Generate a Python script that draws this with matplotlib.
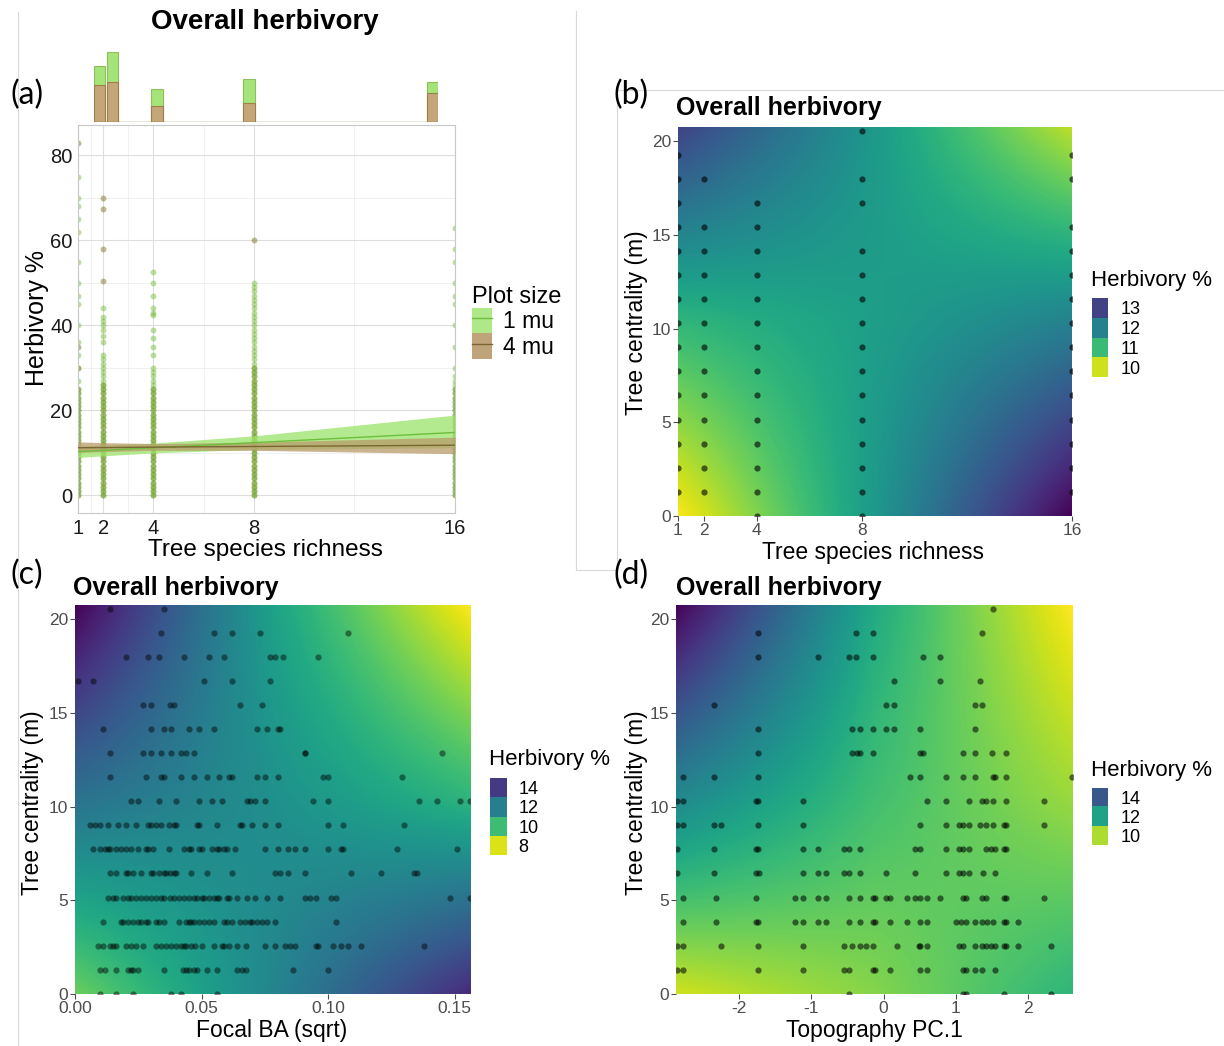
import numpy as np
import matplotlib
matplotlib.use('Agg')
from matplotlib import pyplot as plt
from matplotlib.colors import Normalize
from matplotlib.patches import Patch
from matplotlib.lines import Line2D

W, H = 1224, 1046
plt.rcParams['font.family'] = ['Liberation Sans', 'DejaVu Sans']

# ---------------- panel (a): herbivory vs richness ----------------
richness = [1, 2, 4, 8, 16]
herb_1mu = {
    1: [0, 1, 2, 3, 4, 5, 6, 7, 8, 9, 10, 11, 12, 13, 14, 15, 16, 17, 18, 19, 20, 21, 22, 23, 24, 25,
        27, 30, 33, 36, 40, 45, 47, 50, 55, 62, 65, 68, 70, 75],
    2: [0, 1, 2, 3, 4, 5, 6, 7, 8, 9, 10, 11, 12, 13, 14, 15, 16, 17, 18, 19, 20, 21, 22, 23, 24, 25,
        26, 27, 28, 29, 30, 31, 32, 33, 36, 37.5, 39, 40, 41, 42, 44],
    4: [0, 1, 2, 3, 4, 5, 6, 7, 8, 9, 10, 11, 12, 13, 14, 15, 16, 17, 18, 19, 20, 21, 22, 23, 24, 25,
        26, 27, 28, 29, 30, 33, 35, 37, 39, 42.5, 43, 44, 47, 50, 52.5],
    8: [0, 1, 2, 3, 4, 5, 6, 7, 8, 9, 10, 11, 12, 13, 14, 15, 16, 17, 18, 19, 20, 21, 22, 23, 24, 25,
        26, 27, 28, 29, 30, 31, 32, 33, 34, 35, 36, 37, 38, 39, 40, 41, 42, 43, 44, 45, 46, 47, 48, 49, 50],
    16: [0, 1, 2, 3, 4, 5, 6, 7, 8, 9, 10, 11, 12, 13, 14, 15, 16, 17, 18, 19, 20, 21, 22, 23, 24, 25,
         26, 27, 28, 30, 35, 40, 45, 47, 50, 55, 58, 63],
}
herb_4mu = {
    1: [0, 1, 2, 3, 4, 5, 6, 7, 8, 9, 10, 11, 12, 13, 14, 15, 16, 17, 18, 19, 20, 21, 22, 23, 24, 25,
        30, 35, 83],
    2: [0, 1, 2, 3, 4, 5, 6, 7, 8, 9, 10, 11, 12, 13, 14, 15, 16, 17, 18, 19, 20, 21, 22, 23, 24, 25,
        26, 50.5, 58, 67.5, 70],
    4: [0, 1, 2, 3, 4, 5, 6, 7, 8, 9, 10, 11, 12, 13, 14, 15, 16, 17, 18, 19, 20, 21, 22, 23, 24, 25],
    8: [0, 1, 2, 3, 4, 5, 6, 7, 8, 9, 10, 11, 12, 13, 14, 15, 16, 17, 18, 19, 20, 21, 22, 23, 24, 25,
        26, 27, 28, 29, 30, 60],
    16: [0, 1, 2, 3, 4, 5, 6, 7, 8, 9, 10, 11, 12, 13, 14, 15, 16, 17, 18, 19, 20, 21, 22, 23, 24, 25],
}
fit_1mu = [10.3, 10.6, 11.2, 12.4, 14.8]
lo_1mu = [8.9, 9.3, 10.0, 10.8, 11.2]
hi_1mu = [11.7, 11.8, 12.3, 14.0, 18.9]
fit_4mu = [11.2, 11.25, 11.35, 11.5, 11.8]
lo_4mu = [10.1, 10.3, 10.6, 10.6, 9.8]
hi_4mu = [12.6, 12.4, 12.2, 12.5, 13.7]

# marginal histogram (counts per richness bin)
hist_left = [1.0, 1.55, 3.5, 7.5, 15.5]
count_1mu = [565, 700, 330, 430, 405]
count_4mu = [370, 400, 165, 195, 290]

# ---------------- panels (b)-(d): centrality rows ----------------
cent_rows = [0, 1.29, 2.57, 3.86, 5.14, 6.43, 7.71, 9.0, 10.28, 11.57, 12.85,
             14.14, 15.42, 16.71, 17.99, 19.28, 20.56]

# (b) row indices of observed trees per richness level
b_rows = {
    1: [1, 2, 3, 4, 5, 6, 7, 8, 9, 10, 11, 12, 13, 14, 15],
    2: [1, 2, 3, 4, 5, 6, 7, 8, 9, 10, 11, 12, 14],
    4: [0, 1, 2, 3, 4, 5, 6, 7, 8, 9, 10, 11, 12, 13],
    8: [0, 1, 2, 3, 4, 5, 6, 7, 8, 9, 10, 11, 13, 14, 16],
    16: [1, 2, 3, 4, 5, 6, 7, 8, 9, 10, 11, 12, 14, 15],
}
b_gx = [1, 8.5, 16]
b_gy = [0, 10.375, 20.75]
b_gz = [[9.7, 11.6, 13.8],
        [11.1, 11.5, 12.0],
        [13.0, 11.6, 10.1]]
b_levels = [13, 12, 11, 10]

# (c) focal BA (sqrt) per centrality row
c_rows = [
    [0.010, 0.016, 0.023, 0.038, 0.042, 0.056],
    [0.010, 0.012, 0.016, 0.021, 0.022, 0.023, 0.025, 0.035, 0.0425, 0.044, 0.045, 0.047, 0.048,
     0.052, 0.056, 0.064, 0.066, 0.0675, 0.086, 0.100],
    [0.009, 0.011, 0.014, 0.015, 0.016, 0.020, 0.022, 0.024, 0.027, 0.032, 0.034, 0.036, 0.038,
     0.040, 0.042, 0.043, 0.044, 0.046, 0.0475, 0.050, 0.055, 0.058, 0.059, 0.061, 0.064, 0.0675,
     0.075, 0.079, 0.083, 0.085, 0.087, 0.095, 0.096, 0.102, 0.105, 0.108, 0.113, 0.138],
    [0.011, 0.018, 0.019, 0.021, 0.023, 0.025, 0.026, 0.028, 0.029, 0.032, 0.033, 0.035, 0.041,
     0.044, 0.045, 0.046, 0.047, 0.049, 0.051, 0.053, 0.055, 0.059, 0.060, 0.062, 0.065, 0.067,
     0.069, 0.070, 0.072, 0.074, 0.076, 0.079, 0.103],
    [0.013, 0.015, 0.016, 0.019, 0.021, 0.022, 0.024, 0.026, 0.028, 0.030, 0.032, 0.034, 0.035,
     0.0375, 0.039, 0.041, 0.043, 0.045, 0.047, 0.048, 0.050, 0.051, 0.053, 0.055, 0.056, 0.057,
     0.060, 0.061, 0.064, 0.068, 0.071, 0.076, 0.081, 0.091, 0.093, 0.095, 0.101, 0.103, 0.148, 0.156],
    [0.014, 0.016, 0.020, 0.021, 0.023, 0.026, 0.030, 0.031, 0.033, 0.035, 0.036, 0.0375, 0.039,
     0.040, 0.046, 0.052, 0.062, 0.079, 0.081, 0.084, 0.091, 0.109, 0.121, 0.134, 0.135],
    [0.007, 0.010, 0.012, 0.013, 0.014, 0.016, 0.018, 0.020, 0.022, 0.025, 0.028, 0.029, 0.031,
     0.037, 0.043, 0.045, 0.046, 0.049, 0.050, 0.054, 0.056, 0.057, 0.059, 0.060, 0.063, 0.075,
     0.080, 0.084, 0.087, 0.091, 0.100, 0.105, 0.106, 0.127, 0.151],
    [0.006, 0.008, 0.010, 0.013, 0.017, 0.020, 0.024, 0.029, 0.030, 0.032, 0.034, 0.037, 0.039,
     0.040, 0.048, 0.049, 0.056, 0.065, 0.066, 0.070, 0.075, 0.080, 0.100, 0.106, 0.130],
    [0.022, 0.025, 0.033, 0.040, 0.049, 0.054, 0.058, 0.068, 0.069, 0.071, 0.075, 0.094, 0.100,
     0.136, 0.143, 0.152, 0.156],
    [0.014, 0.028, 0.034, 0.035, 0.042, 0.047, 0.052, 0.057, 0.061, 0.062, 0.072, 0.075, 0.080,
     0.098, 0.100, 0.129],
    [0.014, 0.027, 0.030, 0.034, 0.038, 0.042, 0.044, 0.047, 0.091, 0.091, 0.145],
    [0.011, 0.030, 0.035, 0.038, 0.045, 0.049, 0.055, 0.072, 0.076, 0.080, 0.081],
    [0.027, 0.030, 0.0375, 0.039, 0.065, 0.074],
    [0.001, 0.007, 0.051, 0.062, 0.077],
    [0.020, 0.029, 0.033, 0.043, 0.053, 0.059, 0.077, 0.079, 0.082, 0.096],
    [0.034, 0.055, 0.062, 0.073, 0.108],
    [0.014, 0.035],
]
c_gx = [0.0, 0.078, 0.156]
c_gy = [0, 10.375, 20.75]
c_gz = [[9.3, 11.8, 14.4],
        [12.4, 11.45, 10.3],
        [15.3, 10.9, 7.6]]
c_levels = [14, 12, 10, 8]

# (d) topography PC1 per centrality row
d_rows = [
    [-0.48, 1.10, 1.14, 1.67, 2.31],
    [-2.85, -2.77, -1.73, -1.12, -0.55, -0.48, -0.14, -0.12, 0.09, 0.51, 0.60, 1.10, 1.14, 1.27,
     1.36, 1.54],
    [-2.85, -2.77, -2.25, -1.73, -1.12, -0.55, -0.44, -0.32, -0.24, -0.14, 0.18, 0.49, 0.51, 0.60,
     1.04, 1.10, 1.27, 1.36, 1.42, 1.48, 1.54, 1.67, 1.70, 1.86, 2.31],
    [-2.77, -2.32, -1.77, -1.73, -1.23, -1.12, -0.91, -0.80, -0.48, -0.32, -0.14, -0.12, 0.09,
     0.32, 0.51, 0.60, 1.00, 1.07, 1.14, 1.27, 1.36, 1.43, 1.51, 1.67, 1.70, 1.86],
    [-2.77, -2.32, -1.77, -1.23, -1.12, -0.91, -0.80, -0.48, -0.32, -0.14, -0.12, 0.03, 0.09,
     0.32, 0.43, 0.51, 0.60, 0.78, 1.10, 1.14, 1.36, 1.42, 1.67, 1.70, 2.22],
    [-2.85, -2.35, -1.77, -1.72, -1.12, -0.91, -0.80, -0.55, -0.48, -0.32, 0.03, 0.43, 0.87, 1.04,
     1.10, 1.18, 1.38, 1.54],
    [-2.85, -2.35, -1.77, -1.73, -1.12, -0.91, -0.55, -0.48, -0.32, 0.43, 0.51, 0.87, 1.04, 1.10,
     1.18, 1.42, 1.48, 1.54, 1.67, 1.69],
    [-2.85, -2.77, -2.35, -2.25, -1.73, -1.12, 0.51, 0.87, 1.04, 1.10, 1.18, 1.34, 1.42, 1.51,
     1.67, 1.69, 2.22],
    [-2.85, -2.78, -1.77, -1.73, -1.12, 0.60, 0.87, 1.18, 1.36, 1.42, 1.51, 1.69, 2.22],
    [-2.77, -2.35, -1.73, 0.37, 0.51, 0.87, 1.10, 1.27, 1.51, 1.54, 1.69, 2.60],
    [-1.73, -0.44, -0.37, -0.32, -0.14, 0.51, 0.55, 1.10, 1.27, 1.50, 1.69],
    [-1.73, -0.44, -0.32, -0.14, 0.03, 0.14, 0.51, 1.27],
    [-2.35, 0.03, 0.15, 1.27, 1.36],
    [0.15, 0.78, 1.34],
    [-1.73, -0.91, -0.48, -0.38, -0.14, 0.55, 0.78],
    [-1.73, -0.38, -0.14, 1.36],
    [1.51],
]
d_gx = [-2.87, -0.125, 2.62]
d_gy = [0, 10.375, 20.75]
d_gz = [[9.65, 10.4, 11.5],
        [12.7, 11.2, 10.2],
        [15.8, 11.8, 9.2]]
d_levels = [14, 12, 10]

GREEN_PT, BROWN_PT = '#6cba2c', '#7a7428'
GREEN_FILL, BROWN_FILL = '#9be36a', '#b99a6a'
GREEN_LINE, BROWN_LINE = '#6cbf3c', '#7a6632'


def box(l, r, t, b):
    return [l / W, 1 - b / H, (r - l) / W, (b - t) / H]


def ftext(x, y, s, **kw):
    fig.text(x / W, 1 - y / H, s, **kw)


fig = plt.figure(figsize=(W / 100, H / 100), dpi=100)

# thin frame lines of the composite
for xs, ys in [((18, 18), (12, 1046)), ((576, 576), (11, 570)), ((576, 617), (570, 570)),
               ((617, 617), (90, 570)), ((617, 1224), (90, 90))]:
    fig.add_artist(Line2D([x / W for x in xs], [1 - y / H for y in ys], color='#d9d9d9', lw=0.8))

# ---- (a) main
ax = fig.add_axes(box(78, 455, 125, 513))
for r in richness:
    ax.scatter([r] * len(herb_4mu[r]), herb_4mu[r], s=18, color=BROWN_PT, alpha=0.5, lw=0, zorder=2)
    ax.scatter([r] * len(herb_1mu[r]), herb_1mu[r], s=18, color=GREEN_PT, alpha=0.45, lw=0, zorder=2)
ax.fill_between(richness, lo_1mu, hi_1mu, color=GREEN_FILL, alpha=0.75, lw=0, zorder=3)
ax.fill_between(richness, lo_4mu, hi_4mu, color=BROWN_FILL, alpha=0.75, lw=0, zorder=3)
ax.plot(richness, fit_1mu, color=GREEN_LINE, lw=1, zorder=4)
ax.plot(richness, fit_4mu, color=BROWN_LINE, lw=1, zorder=4)
ax.set_xlim(1, 16)
ax.set_ylim(-4.15, 87.15)
ax.set_xticks(richness)
ax.set_yticks([0, 20, 40, 60, 80])
ax.set_xticks([1.5, 3, 6, 12], minor=True)
ax.set_yticks([10, 30, 50, 70], minor=True)
ax.grid(True, which='major', color='#dedede', lw=0.8)
ax.grid(True, which='minor', color='#ececec', lw=0.5)
ax.set_axisbelow(True)
ax.tick_params(which='both', length=0, labelsize=14.5, labelcolor='#1a1a1a', pad=4)
for sp in ax.spines.values():
    sp.set_color('#c8c8c8')
    sp.set_linewidth(0.8)
ax.legend(handles=[(Patch(facecolor=GREEN_FILL, alpha=0.8), Line2D([], [], color=GREEN_LINE, lw=1)),
                   (Patch(facecolor=BROWN_FILL, alpha=0.9), Line2D([], [], color=BROWN_LINE, lw=1))],
          labels=['1 mu', '4 mu'], title='Plot size', loc='upper left',
          bbox_to_anchor=(451 / W, 1 - 265 / H), bbox_transform=fig.transFigure,
          frameon=False, fontsize=16.5, title_fontsize=17, handlelength=0.9, handleheight=1.35,
          labelspacing=0.0, handletextpad=0.45, alignment='left')

# ---- (a) marginal histogram
axh = fig.add_axes(box(94, 438, 52, 122))
axh.bar(hist_left, count_1mu, width=0.5, align='edge', color='#a6e47a', edgecolor='#8fbf5a', lw=0.8)
axh.bar(hist_left, count_4mu, width=0.5, align='edge', color='#c4a679', edgecolor='#9c8048', lw=0.8)
axh.axhline(0, color='#9c8048', lw=1)
axh.set_xlim(1, 16)
axh.set_ylim(0, 700)
axh.axis('off')

ftext(265, 22, 'Overall herbivory', fontsize=20, fontweight='bold', ha='center', va='center')
ftext(265, 550, 'Tree species richness', fontsize=17.5, ha='center', va='center')
ftext(37, 318, 'Herbivory %', fontsize=18, ha='center', va='center', rotation=90)


# ---- heatmap panels
def heat_panel(bx, gx, gy, gz, levels, xt, xtl, ptsx, ptsy, alpha, key_box, title_xy, xlabel, xl_xy, yl_xy):
    norm = Normalize(vmin=min(min(r) for r in gz), vmax=max(max(r) for r in gz))
    cmap = plt.get_cmap('viridis_r')
    a = fig.add_axes(bx)
    dx = (gx[-1] - gx[0]) / (len(gx) - 1)
    dy = (gy[-1] - gy[0]) / (len(gy) - 1)
    a.imshow(np.array(gz), origin='lower', cmap=cmap, norm=norm, aspect='auto',
             interpolation='bilinear', interpolation_stage='data',
             extent=(gx[0] - dx / 2, gx[-1] + dx / 2, gy[0] - dy / 2, gy[-1] + dy / 2))
    a.scatter(ptsx, ptsy, s=20, color='black', alpha=alpha, lw=0, zorder=3)
    a.set_xlim(gx[0], gx[-1])
    a.set_ylim(gy[0], gy[-1])
    a.set_xticks(xt)
    a.set_xticklabels(xtl)
    a.set_yticks([0, 5, 10, 15, 20])
    a.tick_params(length=3.5, width=0.8, color='#4d4d4d', labelsize=12.5, labelcolor='#4d4d4d', pad=1.5)
    for sp in a.spines.values():
        sp.set_visible(False)
    # discrete legend keys
    k = fig.add_axes(key_box)
    k.imshow(np.array(levels[::-1])[:, None], origin='lower', cmap=cmap, norm=norm, aspect='auto',
             extent=(0, 1, 0, len(levels)))
    k.set_xticks([])
    k.set_yticks([i + 0.5 for i in range(len(levels))])
    k.set_yticklabels([str(v) for v in levels[::-1]])
    k.yaxis.tick_right()
    k.tick_params(length=0, labelsize=13, pad=9)
    for sp in k.spines.values():
        sp.set_visible(False)
    kl = key_box[0] * W
    kt = (1 - key_box[1] - key_box[3]) * H
    ftext(kl - 1, kt - 18, 'Herbivory %', fontsize=16, ha='left', va='center')
    ftext(title_xy[0], title_xy[1], 'Overall herbivory', fontsize=18, fontweight='bold', ha='left', va='center')
    ftext(xl_xy[0], xl_xy[1], xlabel, fontsize=16.5, ha='center', va='center')
    ftext(yl_xy[0], yl_xy[1], 'Tree centrality (m)', fontsize=16.5, ha='center', va='center', rotation=90)


bx_pts, by_pts = [], []
for r in richness:
    for i in b_rows[r]:
        bx_pts.append(r)
        by_pts.append(cent_rows[i])
heat_panel(box(678, 1072, 127, 516), b_gx, b_gy, b_gz, b_levels, richness, [str(r) for r in richness],
           bx_pts, by_pts, 0.6, box(1092, 1108, 298, 377), (676, 108), 'Tree species richness',
           (873, 552), (636, 323))

cx_pts, cy_pts = [], []
for i, row in enumerate(c_rows):
    cx_pts += row
    cy_pts += [cent_rows[i]] * len(row)
heat_panel(box(75, 470, 605, 994), c_gx, c_gy, c_gz, c_levels, [0, 0.05, 0.10, 0.15],
           ['0.00', '0.05', '0.10', '0.15'], cx_pts, cy_pts, 0.45, box(490, 506, 778, 855),
           (73, 588), 'Focal BA (sqrt)', (272, 1030), (33, 803))

dx_pts, dy_pts = [], []
for i, row in enumerate(d_rows):
    dx_pts += row
    dy_pts += [cent_rows[i]] * len(row)
heat_panel(box(676, 1073, 605, 994), d_gx, d_gy, d_gz, d_levels, [-2, -1, 0, 1, 2],
           ['-2', '-1', '0', '1', '2'], dx_pts, dy_pts, 0.55, box(1092, 1108, 788, 845),
           (676, 588), 'Topography PC.1', (874, 1030), (636, 803))

# panel letters
for s, x, y in [('(a)', 27, 95), ('(b)', 631, 95), ('(c)', 27, 575), ('(d)', 631, 575)]:
    ftext(x, y, s, fontsize=23, ha='center', va='center', family=['Lato', 'DejaVu Sans'])

fig.savefig('out.png', dpi=100)
